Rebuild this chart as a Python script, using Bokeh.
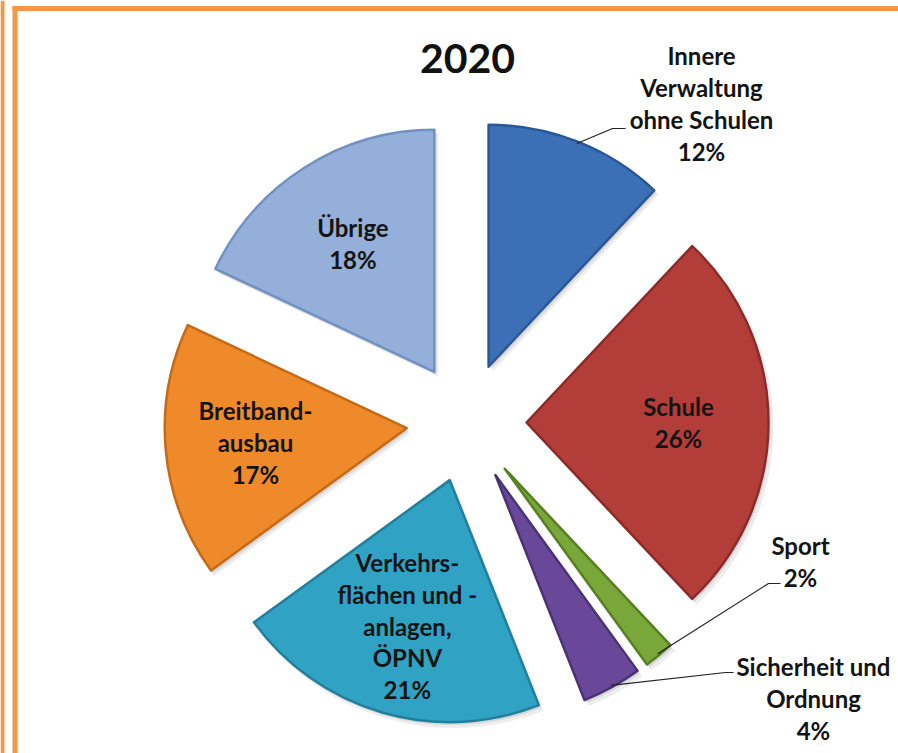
import math
from bokeh.plotting import figure
from bokeh.models import Range1d, Span
from bokeh.core.properties import value
from bokeh.embed import file_html
from bokeh.resources import INLINE

# ---- data ----
title = "2020"
categories = ["Innere\nVerwaltung\nohne Schulen", "Schule", "Sport",
              "Sicherheit und\nOrdnung", "Verkehrs-\nflächen und -\nanlagen,\nÖPNV",
              "Breitband-\nausbau", "Übrige"]
shares = [12, 26, 2, 4, 21, 17, 18]
colors = ["#3c70b6", "#b33d39", "#79a739", "#6a4899", "#30a2c4", "#ef8a2a", "#94afd9"]
edge_colors = ["#2a5896", "#8a2b29", "#587f24", "#4b3373", "#217f9c", "#c56a17", "#7191c0"]
inside = [False, True, False, False, True, True, True]

# ---- layout (data units == screen pixels, y up) ----
W, H = 898, 753
CX, CY = 466, 331
R = 242
EXPLODE = 60
LABEL_R = 212
FONT = "Lato"
# outside label anchors and leader elbows (layout)
outside_pos = {0: (701, 650), 2: (800, 192), 3: (813, 55)}
outside_elbow = {0: ((612, 625), (625, 625)), 2: ((768, 170), (780, 170)), 3: ((725, 81), (733, 81))}

p = figure(width=W, height=H, x_range=Range1d(0, W), y_range=Range1d(0, H),
           output_backend="svg", toolbar_location=None, min_border=0)
p.axis.visible = False
p.grid.visible = False
p.outline_line_color = None
p.background_fill_color = "#ffffff"
p.border_fill_color = "#ffffff"

# frame lines (orange)
p.segment(x0=[12], y0=[H - 8], x1=[W], y1=[H - 8], line_color="#f79646", line_width=5)
p.segment(x0=[14.5], y0=[0], x1=[14.5], y1=[H - 5.5], line_color="#f79646", line_width=5)
p.add_layout(Span(location=2, dimension="height", line_color="#f79646", line_width=4))

total = float(sum(shares))
cum = 0.0
apexes, bis = [], []
for i, s in enumerate(shares):
    a0 = cum / total
    a1 = (cum + s) / total
    cum += s
    th = math.pi * (a0 + a1)  # bisector, clockwise from top (radians)
    ax = CX + EXPLODE * math.sin(th)
    ay = CY + EXPLODE * math.cos(th)
    apexes.append((ax, ay))
    bis.append(th)
    start = math.pi / 2 - 2 * math.pi * a1
    end = math.pi / 2 - 2 * math.pi * a0
    # soft shadow
    p.wedge(x=ax + 4, y=ay - 5, radius=R + 1, start_angle=start, end_angle=end,
            fill_color="#000000", fill_alpha=0.07, line_color=None)
    p.wedge(x=ax + 2, y=ay - 3, radius=R, start_angle=start, end_angle=end,
            fill_color="#000000", fill_alpha=0.09, line_color=None)
    # bevel-ish: dark edge then fill
    p.wedge(x=ax, y=ay, radius=R, start_angle=start, end_angle=end,
            fill_color=colors[i], line_color=edge_colors[i], line_width=2.5,
            line_join="round")

# title
p.text(x=[CX + 1], y=[H - 58], text=[title], text_font=value(FONT),
       text_font_style="bold", text_font_size="41px", text_align="center",
       text_baseline="middle", text_color="#111111")

# labels
for i, (cat, s) in enumerate(zip(categories, shares)):
    label = f"{cat}\n{s}%"
    if inside[i]:
        lx = CX + LABEL_R * math.sin(bis[i])
        ly = CY + LABEL_R * math.cos(bis[i])
    else:
        lx, ly = outside_pos[i]
        ax, ay = apexes[i]
        sx = ax + (R - 2) * math.sin(bis[i])
        sy = ay + (R - 2) * math.cos(bis[i])
        (ex, ey), (hx, hy) = outside_elbow[i]
        p.line(x=[sx, ex, hx], y=[sy, ey, hy], line_color="#222222", line_width=1.2)
    p.text(x=[lx], y=[ly], text=[label], text_font=value(FONT),
           text_font_style="bold", text_font_size="24px", text_align="center",
           text_baseline="middle", text_color="#141414", text_line_height=1.1)

open("out.html", "w").write(file_html(p, INLINE))
